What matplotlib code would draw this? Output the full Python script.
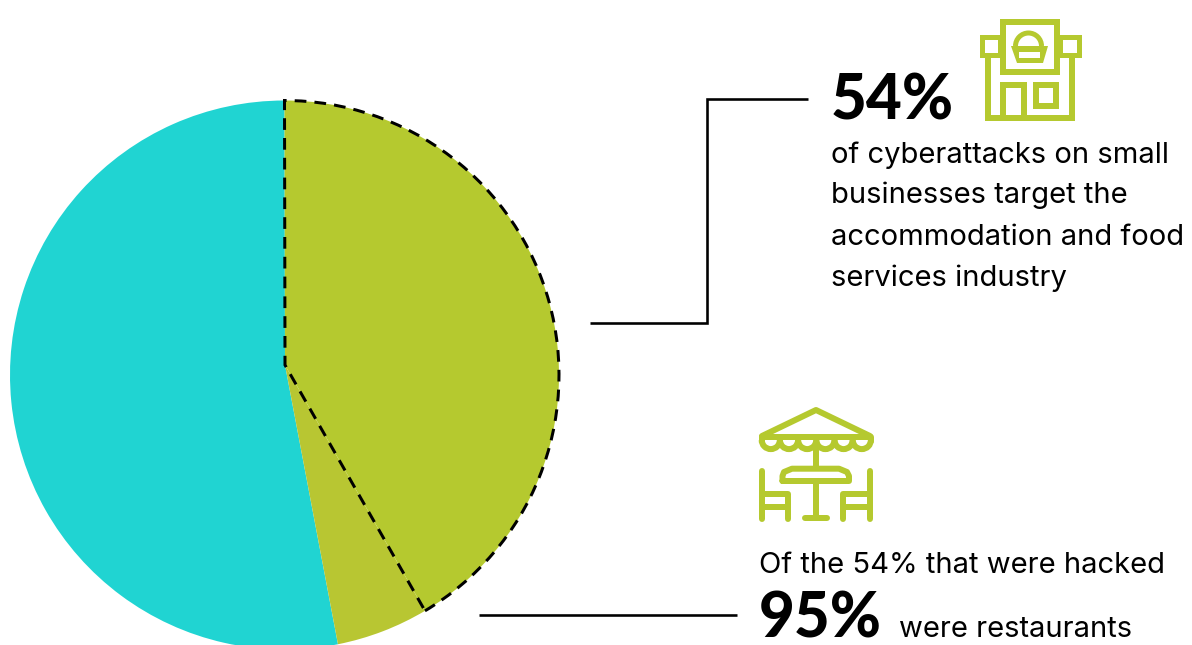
import numpy as np
import matplotlib
matplotlib.use("Agg")
import matplotlib.pyplot as plt
from matplotlib.patches import Arc, Polygon, Rectangle

# share of the pie
slice_names = ["other", "restaurants", "accommodation"]
slice_values = [53.12, 5.43, 41.45]
slice_colors = ["#20d4d2", "#b8c632", "#b5c92f"]

big_first = "54%"
body_first = ["of cyberattacks on small", "businesses target the",
              "accommodation and food", "services industry"]
intro_second = "Of the 54% that were hacked"
big_second = "95%"
tail_second = "were restaurants"

GREEN = "#b5c92f"
FONT = "Inter"
BIG_FONT = "Lato"
W, H = 1192, 645
PX = 72 / 100  # points per pixel at dpi 100

fig = plt.figure(figsize=(W / 100, H / 100), dpi=100)

# pie, y up
ax = fig.add_axes([0, 0, 1, 1])
center = (284.5, H - 375)
apex = np.array([285.0, H - 365.0])
wedges, _ = ax.pie(slice_values, colors=slice_colors, startangle=90,
                   center=center, radius=274.5,
                   wedgeprops={"linewidth": 0})
# outline of the big slice, same angles as the pie wedge
outline, _ = ax.pie([slice_values[2], 100 - slice_values[2]], startangle=90,
                    counterclock=False, center=center, radius=274.5,
                    colors=["none", "none"],
                    wedgeprops={"linewidth": 3 * PX, "edgecolor": "black",
                                "linestyle": (0, (3.9, 2.7))})
outline[1].set_visible(False)

# the slices meet a bit above the circle centre in the original
for w in list(wedges) + [outline[0]]:
    path = w.get_path()
    at_center = np.isclose(path.vertices, center).all(axis=1)
    path.vertices[at_center] = apex

ax.set_xlim(0, W)
ax.set_ylim(0, H)
ax.set_aspect("auto")
ax.axis("off")

# overlay in picture pixels, y down
ov = fig.add_axes([0, 0, 1, 1])
ov.set_xlim(0, W)
ov.set_ylim(H, 0)
ov.axis("off")
ov.patch.set_alpha(0)


def line(xs, ys, lw=6, color=GREEN, cap="round", join="round"):
    ov.plot(xs, ys, color=color, lw=lw * PX, solid_capstyle=cap,
            solid_joinstyle=join)


def box(x0, y0, x1, y1, lw=6):
    ov.add_patch(Rectangle((x0, y0), x1 - x0, y1 - y0, fill=False, ec=GREEN,
                           lw=lw * PX, joinstyle="miter"))


# leader lines
line([590, 707, 707, 808], [323, 323, 99, 99], lw=2.6, color="black",
     cap="butt", join="miter")
line([479, 737], [615, 615], lw=2.6, color="black", cap="butt")

# shop icon
box(1003, 22, 1057, 72)
box(981.5, 36.5, 1000, 54.5, lw=5)
box(1060, 36.5, 1078.5, 54.5, lw=5)
line([988, 988, 1072, 1072], [57, 118, 118, 57], cap="butt", join="miter")
line([1003, 1003, 1024, 1024], [115, 85, 85, 115], cap="butt", join="miter")
box(1036, 85, 1056, 106)
ov.add_patch(Polygon([(1011, 46), (1048, 46), (1043, 63), (1017, 63)], fc=GREEN, ec="none"))
ov.add_patch(Rectangle((1019, 52), 21, 5.5, fc="white", ec="none"))
ov.add_patch(Arc((1028.5, 46), 26, 26, theta1=180, theta2=360, ec=GREEN, lw=5 * PX))

# table and umbrella icon
line([762, 816, 870], [436, 410, 436])
line([762, 870], [437, 437])
scallop_x = np.arange(6) * 18.2 + 761.7
for x in scallop_x:
    ov.add_patch(Arc((x + 9.1, 440), 18.2, 18.2, theta1=0, theta2=180, ec=GREEN, lw=6 * PX))
line([761.7, 761.7], [437, 441])
line([870.9, 870.9], [437, 441])
line([816, 816], [450, 468])
line([782.5, 782.5, 784, 792, 839, 847, 849, 849, 782.5],
     [481, 476, 472, 468.7, 468.7, 472, 476, 481, 481])
line([816, 816], [481, 518])
line([805, 827], [518, 518])
line([761.7, 761.7], [471, 519])
line([761.7, 788, 788], [494, 494, 519])
line([761.7, 788], [507, 507])
line([870, 870], [471, 519])
line([870, 843, 843], [494, 494, 519])
line([870, 843], [507, 507])

# text
body_size = 29.2 * PX
big_size = 62 * PX
ov.text(831, 120, big_first, family=BIG_FONT, weight="black", fontsize=big_size, va="baseline")
for txt, y in zip(body_first, [163, 203, 245, 286]):
    ov.text(831, y, txt, family=FONT, fontsize=body_size, va="baseline")
ov.text(759, 573, intro_second, family=FONT, fontsize=body_size, va="baseline")
ov.text(759, 637, big_second, family=BIG_FONT, weight="black", fontsize=big_size, va="baseline")
ov.text(899, 637, tail_second, family=FONT, fontsize=body_size, va="baseline")

fig.savefig("out.png", dpi=100)
